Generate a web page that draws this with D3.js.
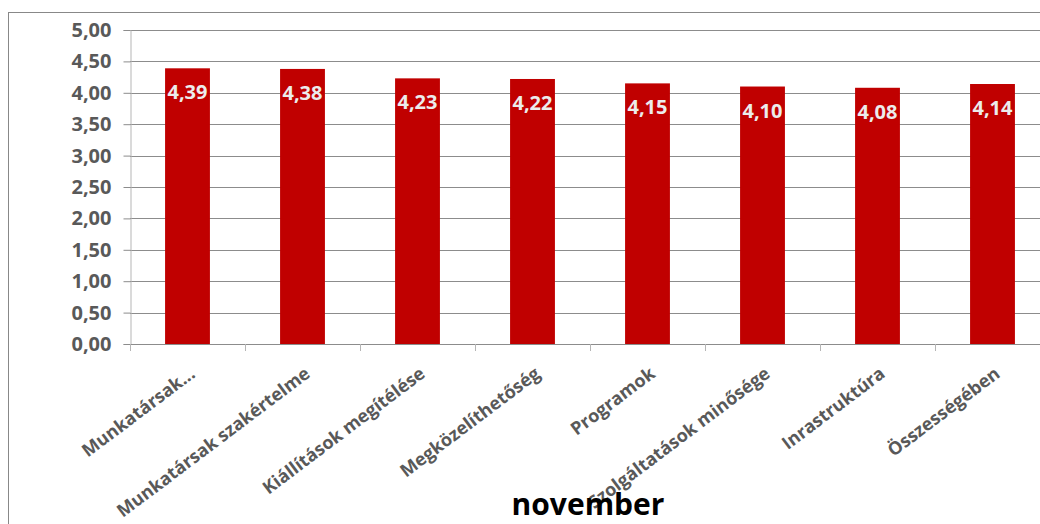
<!DOCTYPE html>
<html>
<head>
<meta charset="utf-8">
<script src="https://cdn.jsdelivr.net/npm/d3@7"></script>
<style>
  html, body { margin: 0; padding: 0; background: #fff; }
  svg { display: block; }
</style>
</head>
<body>
<svg id="chart" width="1040" height="524"></svg>
<script>
// Monthly satisfaction scores (1–5 scale)
const categories = [
  "Munkatársak...",
  "Munkatársak szakértelme",
  "Kiállítások megítélése",
  "Megközelíthetőség",
  "Programok",
  "Szolgáltatások minősége",
  "Inrastruktúra",
  "Összességében"
];
const values = [4.39, 4.38, 4.23, 4.22, 4.15, 4.10, 4.08, 4.14];
const yTicks = [0, 0.5, 1, 1.5, 2, 2.5, 3, 3.5, 4, 4.5, 5];
const title = "november";

const FONT = "'Open Sans', 'DejaVu Sans', sans-serif";
const fmt = v => d3.format(".2f")(v).replace(".", ",");

const svg = d3.select("#chart");

// chart-area frame
svg.append("rect")
  .attr("x", 8.5).attr("y", 12.5)
  .attr("width", 1200).attr("height", 700)
  .attr("fill", "none").attr("stroke", "#888").attr("stroke-width", 1);

const plot = { left: 130, right: 1050, top: 30, bottom: 344 };

const x = d3.scaleBand().domain(categories).range([plot.left, plot.right]).padding(0);
const y = d3.scaleLinear().domain([0, 5]).range([plot.bottom, plot.top]);
const barW = x.bandwidth() * 0.39;

// horizontal gridlines
svg.append("g")
  .selectAll("line")
  .data(yTicks.filter(t => t > 0))
  .join("line")
  .attr("x1", plot.left).attr("x2", plot.right)
  .attr("y1", d => Math.round(y(d)) + 0.5).attr("y2", d => Math.round(y(d)) + 0.5)
  .attr("stroke", "#8c8c8c").attr("stroke-width", 1);

// y axis
const yAxis = svg.append("g")
  .attr("transform", `translate(${plot.left + 0.5},0)`)
  .call(d3.axisLeft(y).tickValues(yTicks).tickFormat(fmt).tickSize(7).tickPadding(12));
yAxis.select(".domain").attr("stroke", "#b5b5b5");
yAxis.selectAll(".tick line").attr("stroke", "#8c8c8c");
yAxis.selectAll(".tick text")
  .attr("font-family", FONT).attr("font-size", 20).attr("font-weight", 700)
  .attr("fill", "#595959");

// bars
svg.append("g")
  .selectAll("rect")
  .data(values)
  .join("rect")
  .attr("x", (d, i) => x(categories[i]) + (x.bandwidth() - barW) / 2)
  .attr("y", d => y(d))
  .attr("width", barW)
  .attr("height", d => y(0) - y(d))
  .attr("fill", "#c00000");

// value labels inside bar tops
svg.append("g")
  .selectAll("text")
  .data(values)
  .join("text")
  .attr("x", (d, i) => x(categories[i]) + x.bandwidth() / 2)
  .attr("y", d => y(d) + 31)
  .attr("text-anchor", "middle")
  .attr("font-family", FONT).attr("font-size", 20).attr("font-weight", 700)
  .attr("fill", "#ececec")
  .text(d => fmt(d));

// x axis: baseline and category boundary ticks
const xAxisG = svg.append("g");
xAxisG.append("line")
  .attr("x1", plot.left).attr("x2", plot.right)
  .attr("y1", plot.bottom + 0.5).attr("y2", plot.bottom + 0.5)
  .attr("stroke", "#8c8c8c");
xAxisG.selectAll("line.tick")
  .data(categories.map(c => x(c)).concat([plot.right]))
  .join("line")
  .attr("class", "tick")
  .attr("x1", d => Math.round(d) + 0.5).attr("x2", d => Math.round(d) + 0.5)
  .attr("y1", plot.bottom).attr("y2", plot.bottom + 7)
  .attr("stroke", "#b5b5b5");

// rotated category labels
xAxisG.selectAll("text")
  .data(categories)
  .join("text")
  .attr("transform", d => `translate(${x(d) + x.bandwidth() / 2 + 5},${plot.bottom + 27}) rotate(-37)`)
  .attr("text-anchor", "end")
  .attr("dy", "0.35em")
  .attr("font-family", FONT).attr("font-size", 18).attr("font-weight", 700)
  .attr("fill", "#595959")
  .text(d => d);

// title below the axis
svg.append("text")
  .attr("x", 588).attr("y", 515)
  .attr("text-anchor", "middle")
  .attr("font-family", FONT).attr("font-size", 30).attr("font-weight", 700)
  .attr("fill", "#000")
  .text(title);
</script>
</body>
</html>
